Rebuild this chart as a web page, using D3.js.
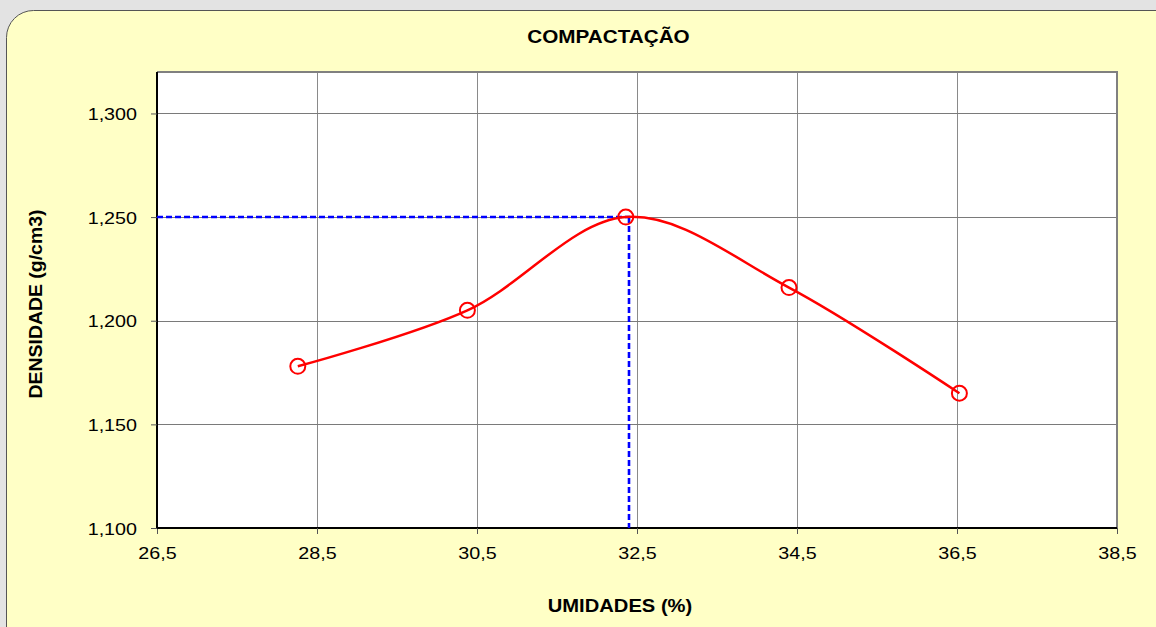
<!DOCTYPE html>
<html>
<head>
<meta charset="utf-8">
<script src="https://cdn.jsdelivr.net/npm/d3@7"></script>
<style>
  html, body { margin: 0; padding: 0; background: #e3e3e3; overflow: hidden; }
  svg { display: block; }
  text { font-family: "Liberation Sans", Arial, sans-serif; fill: #000; }
</style>
</head>
<body>
<svg id="chart" width="1156" height="627"></svg>
<script>
// ---- data ----
const umidade   = [28.26, 30.38, 32.36, 34.40, 36.53];
const densidade = [1.178, 1.205, 1.250, 1.216, 1.165];
const otimoUmidade = 32.40;
const otimoDensidade = 1.250;
const xTicks = [26.5, 28.5, 30.5, 32.5, 34.5, 36.5, 38.5];
const yTicks = [1.100, 1.150, 1.200, 1.250, 1.300];
const titulo = "COMPACTAÇÃO";
const tituloX = "UMIDADES (%)";
const tituloY = "DENSIDADE (g/cm3)";

// ---- layout ----
const W = 1156, H = 627;
const plot = { left: 157, right: 1117, top: 72, bottom: 528 };
const svg = d3.select("#chart");

const x = d3.scaleLinear().domain([26.5, 38.5]).range([plot.left, plot.right]);
const y = d3.scaleLinear().domain([1.100, 1.320]).range([plot.bottom, plot.top]);

const fmtX = v => d3.format(".1f")(v).replace(".", ",");
const fmtY = v => d3.format(".3f")(v).replace(".", ",");

// background panel
svg.append("rect").attr("x", 0).attr("y", 0).attr("width", W).attr("height", H).attr("fill", "#e3e3e3");
svg.append("rect")
  .attr("x", 6.5).attr("y", 10.5).attr("width", W + 60).attr("height", H + 60)
  .attr("rx", 27).attr("ry", 27)
  .attr("fill", "#ffffc6").attr("stroke", "#555").attr("stroke-width", 1);

// plot area
svg.append("rect")
  .attr("x", plot.left).attr("y", plot.top)
  .attr("width", plot.right - plot.left).attr("height", plot.bottom - plot.top)
  .attr("fill", "#fff");

// gridlines
const grid = svg.append("g");
grid.selectAll("line.v").data(xTicks.slice(1, -1)).join("line")
  .attr("x1", d => Math.round(x(d)) + 0.5).attr("x2", d => Math.round(x(d)) + 0.5)
  .attr("y1", plot.top).attr("y2", plot.bottom)
  .attr("stroke", "#8a8a8a").attr("stroke-width", 1);
grid.selectAll("line.h").data(yTicks.slice(1)).join("line")
  .attr("x1", plot.left).attr("x2", plot.right)
  .attr("y1", d => Math.round(y(d)) + 0.5).attr("y2", d => Math.round(y(d)) + 0.5)
  .attr("stroke", "#7a7a7a").attr("stroke-width", 1);

// plot border (top/right grey)
svg.append("path")
  .attr("d", `M${plot.left},${plot.top}H${plot.right}V${plot.bottom}`)
  .attr("fill", "none").attr("stroke", "#808080").attr("stroke-width", 2);

// axes
const xAxis = d3.axisBottom(x).tickValues(xTicks).tickFormat(fmtX).tickSize(6).tickSizeOuter(0);
const yAxis = d3.axisLeft(y).tickValues(yTicks).tickFormat(fmtY).tickSize(6).tickSizeOuter(0);

const gx = svg.append("g").attr("transform", `translate(0,${plot.bottom})`).call(xAxis);
gx.select(".domain").attr("stroke", "#000").attr("stroke-width", 2)
  .attr("d", `M${plot.left - 1},0H${plot.right}`);
gx.selectAll(".tick line").attr("stroke", "#555");
gx.selectAll(".tick text")
  .attr("font-size", 17).attr("dy", null).attr("y", 31).attr("x", 0)
  .attr("transform", "scale(1.16,1)")
  .style("font-family", "'Liberation Sans', Arial, sans-serif")
  .attr("fill", "#000");

const gy = svg.append("g").attr("transform", `translate(${plot.left},0)`).call(yAxis);
gy.select(".domain").attr("stroke", "#000").attr("stroke-width", 2)
  .attr("d", `M0,${plot.top}V${plot.bottom + 1}`);
gy.selectAll(".tick line").attr("stroke", "#555");
gy.selectAll(".tick text")
  .attr("font-size", 17).attr("dy", null).attr("x", null).attr("y", 6)
  .attr("transform", "translate(-20,0) scale(1.16,1)")
  .style("font-family", "'Liberation Sans', Arial, sans-serif")
  .attr("fill", "#000");

// dashed optimum guides
const guide = svg.append("g");
guide.append("line")
  .attr("x1", plot.left).attr("x2", x(otimoUmidade) + 1)
  .attr("y1", Math.round(y(otimoDensidade))).attr("y2", Math.round(y(otimoDensidade)))
  .attr("stroke", "#0000ff").attr("stroke-width", 2.6).attr("stroke-dasharray", "6,3");
guide.append("line")
  .attr("x1", Math.round(x(otimoUmidade))).attr("x2", Math.round(x(otimoUmidade)))
  .attr("y1", y(otimoDensidade)).attr("y2", plot.bottom)
  .attr("stroke", "#0000ff").attr("stroke-width", 2.6).attr("stroke-dasharray", "6,3");

// curve
const pts = umidade.map((u, i) => [u, densidade[i]]);
const line = d3.line().x(d => x(d[0])).y(d => y(d[1])).curve(d3.curveCardinal.tension(0));
svg.append("path").datum(pts)
  .attr("d", line).attr("fill", "none").attr("stroke", "#ff0000").attr("stroke-width", 2.5);

// markers
svg.append("g").selectAll("circle").data(pts).join("circle")
  .attr("cx", d => x(d[0])).attr("cy", d => y(d[1])).attr("r", 7.5)
  .attr("fill", "none").attr("stroke", "#ff0000").attr("stroke-width", 2);

// titles
function label(txt, cx, cy, size, sx, rot) {
  svg.append("text")
    .attr("transform", `translate(${cx},${cy}) rotate(${rot || 0}) scale(${sx},1)`)
    .attr("text-anchor", "middle")
    .attr("font-size", size).attr("font-weight", "bold")
    .text(txt);
}
label(titulo, 608.5, 42.5, 18, 1.15);
label(tituloX, 620, 612, 18, 1.12);
label(tituloY, 42, 304, 18, 1.08, -90);
</script>
</body>
</html>
